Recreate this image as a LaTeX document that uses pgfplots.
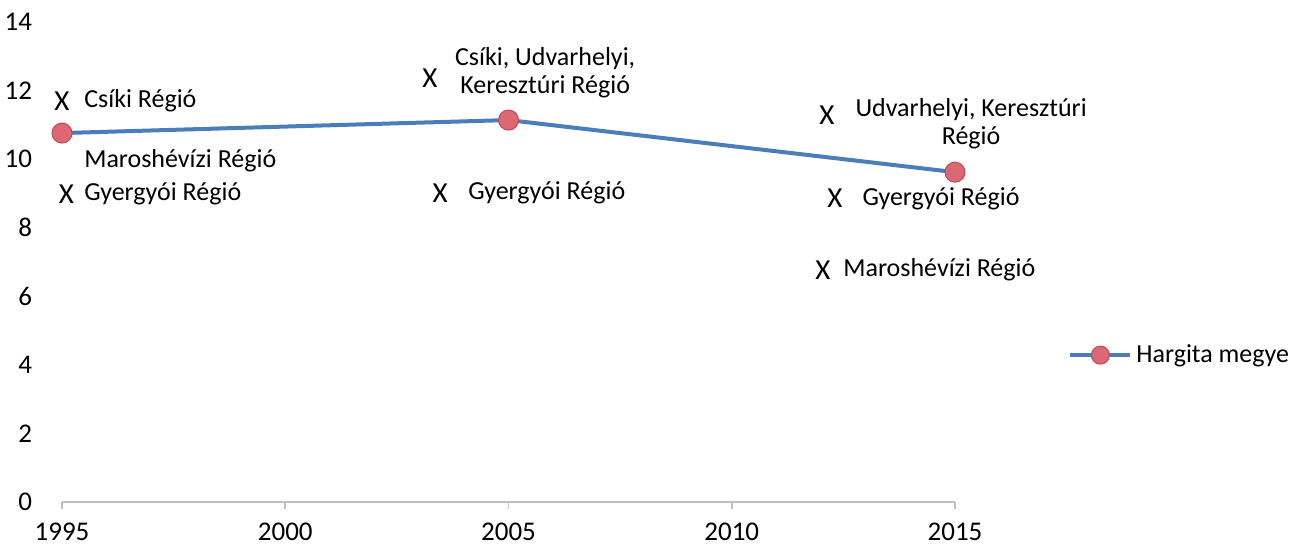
\documentclass[border=0pt]{standalone}
\usepackage{fontspec}
\setmainfont{Carlito}
\usepackage{pgfplots}
\pgfplotsset{compat=1.18}
\definecolor{lineblue}{RGB}{74,126,187}
\definecolor{mkfill}{RGB}{219,104,114}
\definecolor{mkdraw}{RGB}{190,75,85}
\definecolor{axgray}{RGB}{191,191,191}
\newcommand{\lf}{\fontsize{13}{14}\selectfont}
\begin{document}
\begin{tikzpicture}
\useasboundingbox (-31pt,-22pt) rectangle (621.5pt,251pt);
\begin{axis}[
 at={(0pt,0pt)}, anchor=south west,
 scale only axis, width=446.5pt, height=240pt,
 xmin=1995, xmax=2015, ymin=0, ymax=14,
 xtick={1995,2000,2005,2010,2015},
 ytick={0,2,...,14},
 axis x line*=bottom, axis y line*=left,
 x axis line style={draw=axgray, line width=0.8pt},
 y axis line style={draw=none},
 xtick style={draw=axgray, line width=0.8pt},
 ytick style={draw=none},
 tick align=outside, major tick length=3.5pt,
 /pgf/number format/1000 sep={},
 /pgf/number format/assume math mode=true,
 tick label style={font=\fontsize{13.5}{16}\selectfont},
 yticklabel style={xshift=-8pt},
 xticklabel style={inner sep=0pt, yshift=-7pt},
 clip=false,
 legend style={at={(1.1265,0.306)}, anchor=west, draw=none, fill=none, font=\lf, inner sep=0pt},
 legend image code/.code={\draw[mark repeat=2,mark phase=2, mark size=4.5pt] plot coordinates {(0pt,0pt)(15pt,0pt)(30pt,0pt)};},
]
\addplot[draw=none, mark=none, forget plot, nodes near coords={X},
  every node near coord/.append style={anchor=center, font=\fontsize{14.5}{16}\selectfont, text=black, inner sep=0pt}]
  coordinates {(1995.0,11.69) (1995.1,8.98) (2003.24,12.37) (2003.47,9.01) (2012.13,11.29) (2012.31,8.87) (2012.04,6.77)};
\addplot[lineblue, line width=2pt, mark=*, mark size=5pt, mark options={fill=mkfill, draw=mkdraw, line width=0.5pt}]
  coordinates {(1995,10.76) (2005,11.14) (2015,9.62)};
\addlegendentry{Hargita megye}
\node[anchor=west, inner sep=0pt, font=\lf] at (axis cs:1995.49,11.69) {Csíki Régió};
\node[anchor=west, inner sep=0pt, font=\lf] at (axis cs:1995.49,9.94) {Maroshévízi Régió};
\node[anchor=west, inner sep=0pt, font=\lf] at (axis cs:1995.49,8.98) {Gyergyói Régió};
\node[anchor=center, align=center, inner sep=0pt, font=\lf] at (axis cs:2005.82,12.52) {Csíki, Udvarhelyi,\\Keresztúri Régió};
\node[anchor=west, inner sep=0pt, font=\lf] at (axis cs:2004.09,9.01) {Gyergyói Régió};
\node[anchor=center, align=center, inner sep=0pt, font=\lf] at (axis cs:2015.36,11.04) {Udvarhelyi, Keresztúri\\Régió};
\node[anchor=west, inner sep=0pt, font=\lf] at (axis cs:2012.92,8.85) {Gyergyói Régió};
\node[anchor=west, inner sep=0pt, font=\lf] at (axis cs:2012.49,6.77) {Maroshévízi Régió};
\end{axis}
\end{tikzpicture}
\end{document}
